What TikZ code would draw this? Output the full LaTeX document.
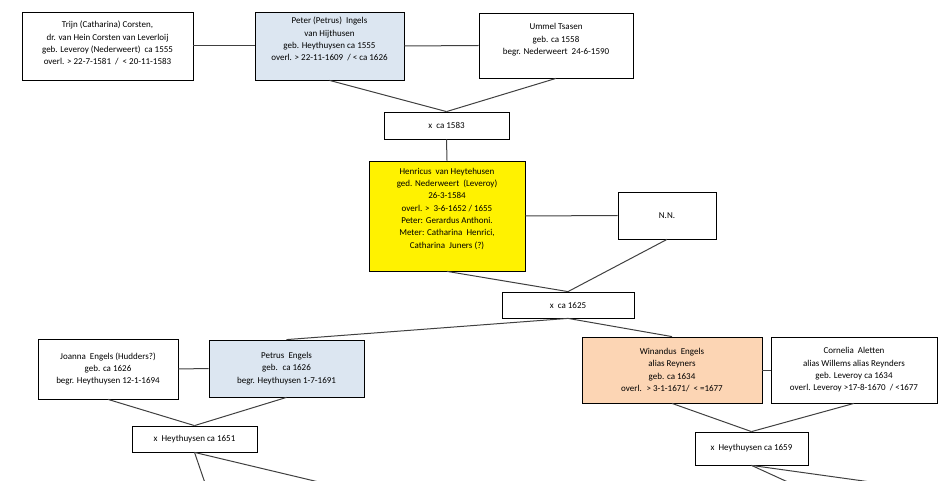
\documentclass[tikz,border=0pt]{standalone}
\usepackage{fontspec}
\setmainfont{Carlito}
\usepackage{xcolor}
\definecolor{lichtblauw}{HTML}{DCE6F1}
\definecolor{perzik}{HTML}{FCD5B4}
\definecolor{lijn}{HTML}{404040}

\begin{document}
\begin{tikzpicture}[x=1pt,y=-1pt,
    persoon/.style={draw=black, line width=0.8pt, fill=white, align=center,
        inner sep=0pt, font=\fontsize{9}{12.3}\selectfont},
    huwelijk/.style={persoon},
    hoger/.style={text depth=#1},
    band/.style={draw=lijn, line width=1pt}]
                \useasboundingbox (0,0) rectangle (951,481);

                % ouders van Henricus
                \node[persoon, hoger=6pt, minimum width=171, minimum height=68] (trijn) at (107.5,46)
                    {Trijn (Catharina) Corsten,\\dr. van Hein Corsten van Leverloij\\geb. Leveroy (Nederweert) ~ca 1555\\overl. > 22-7-1581 ~/ ~< 20-11-1583};
                \node[persoon, hoger=14pt, fill=lichtblauw, minimum width=149, minimum height=68] (peter) at (329.5,46)
                    {Peter (Petrus) ~Ingels\\van Hijthusen\\geb. Heythuysen ca 1555\\overl. > 22-11-1609 ~/ < ca 1626};
                \node[persoon, hoger=13pt, minimum width=154, minimum height=65] (ummel) at (556,45.5)
                    {Ummel Tsasen\\geb. ca 1558\\begr. Nederweert ~24-6-1590};
                \node[huwelijk, minimum width=125, minimum height=27] (x1583) at (446.5,125.5) {x ~ca 1583};

                % Henricus en N.N.
                \node[persoon, hoger=16pt, fill=yellow, minimum width=156, minimum height=110] (henricus) at (447,216)
                    {Henricus ~van Heytehusen\\ged. Nederweert ~(Leveroy)\\26-3-1584\\overl. > ~3-6-1652 / 1655\\Peter: Gerardus Anthoni.\\Meter: Catharina ~Henrici,\\Catharina ~Juners (?)};
                \node[persoon, minimum width=98, minimum height=47] (nn) at (667,215.5) {N.N.};
                \node[huwelijk, minimum width=132, minimum height=26] (x1625) at (568,305) {x ~ca 1625};

                % kinderen
                \node[persoon, minimum width=140, minimum height=60] (joanna) at (108,369)
                    {Joanna ~Engels (Hudders?)\\geb. ca 1626\\begr. Heythuysen 12-1-1694};
                \node[persoon, fill=lichtblauw, minimum width=155, minimum height=57] (petrus) at (286.5,368.5)
                    {Petrus ~Engels\\geb. ~ca 1626\\begr. Heythuysen 1-7-1691};
                \node[huwelijk, minimum width=125, minimum height=26] (x1651) at (194.5,439) {x ~Heythuysen ca 1651};

                \node[persoon, fill=perzik, minimum width=180, minimum height=66] (winandus) at (672,370)
                    {Winandus ~Engels\\alias Reyners\\geb. ca 1634\\overl. ~> 3-1-1671/ ~< =1677};
                \node[persoon, minimum width=166, minimum height=66] (cornelia) at (854,370)
                    {Cornelia ~Aletten\\alias Willems alias Reynders\\geb. Leveroy ca 1634\\overl. Leveroy >17-8-1670 ~/ <1677};
                \node[huwelijk, minimum width=113, minimum height=33] (x1659) at (751.5,448.5) {x ~Heythuysen ca 1659};

                \coordinate (kind1) at (205,483);
                \coordinate (kind2) at (323,483);
                \coordinate (kind3) at (790,483);
                \coordinate (kind4) at (878,483);

                % verbindingen
                \draw[band] (trijn.east) -- (peter.west);
                \draw[band] (peter.east) -- (ummel.west);
                \draw[band] (peter.south) -- (x1583.north);
                \draw[band] (ummel.south) -- (x1583.north);
                \draw[band] (x1583.south) -- (henricus.north);
                \draw[band] (henricus.east) -- (nn.west);
                \draw[band] (henricus.south) -- (x1625.north);
                \draw[band] (nn.south) -- (x1625.north);
                \draw[band] (x1625.south) -- (petrus.north);
                \draw[band] (x1625.south) -- (winandus.north);
                \draw[band] (joanna.east) -- (petrus.west);
                \draw[band] (joanna.south) -- (x1651.north);
                \draw[band] (petrus.south) -- (x1651.north);
                \draw[band] (winandus.east) -- (cornelia.west);
                \draw[band] (winandus.south) -- (x1659.north);
                \draw[band] (cornelia.south) -- (x1659.north);
                \draw[band] (x1651.south) -- (kind1);
                \draw[band] (x1651.south) -- (kind2);
                \draw[band] (x1659.south) -- (kind3);
                \draw[band] (x1659.south) -- (kind4);
            \end{tikzpicture}
\end{document}
